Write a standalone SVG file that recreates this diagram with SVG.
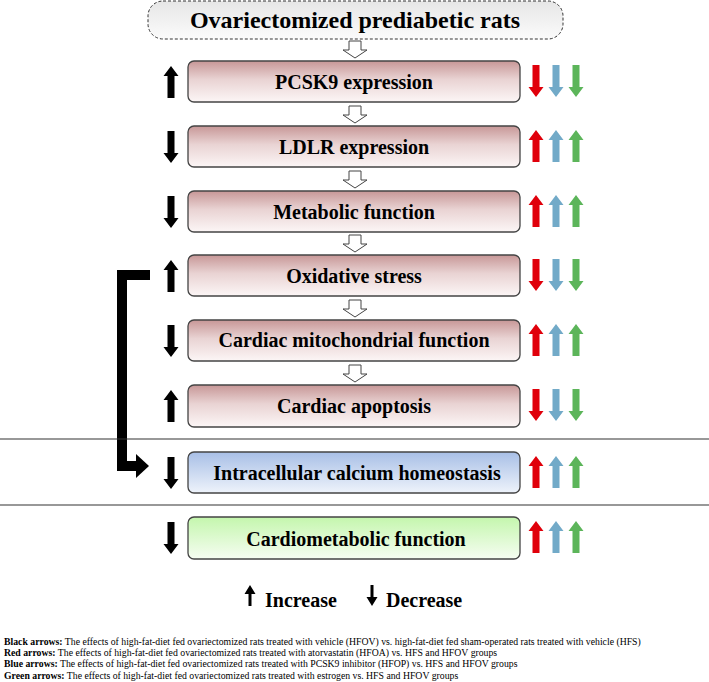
<svg xmlns="http://www.w3.org/2000/svg" width="709" height="682" viewBox="0 0 709 682" font-family="'Liberation Serif', 'Times New Roman', serif">
<style>
.t{font-family:'Liberation Serif',serif;font-size:20px;font-weight:bold;text-anchor:middle}
.box{stroke:#444;stroke-width:1.3}
.fn{font-family:'Liberation Serif',serif;font-size:9.75px}
.b{font-weight:bold}
.lg{font-family:'Liberation Serif',serif;font-size:20px;font-weight:bold}
.hol{fill:#fff;stroke:#444;stroke-width:1}
.k{fill:#000}.r{fill:#e0000b}.u{fill:#72aac8}.g{fill:#5cb55a}
</style>
<defs>
<linearGradient id="gp" x1="0" y1="0" x2="0" y2="1"><stop offset="0" stop-color="#c79797"/><stop offset="0.45" stop-color="#e9d3d3"/><stop offset="1" stop-color="#fcf6f6"/></linearGradient>
<linearGradient id="gb" x1="0" y1="0" x2="0" y2="1"><stop offset="0" stop-color="#a8bfe6"/><stop offset="1" stop-color="#eef3fb"/></linearGradient>
<linearGradient id="gg" x1="0" y1="0" x2="0" y2="1"><stop offset="0" stop-color="#c4f6ad"/><stop offset="1" stop-color="#f6fdf2"/></linearGradient>
<linearGradient id="gt" x1="0" y1="0" x2="0" y2="1"><stop offset="0" stop-color="#e6e6e6"/><stop offset="1" stop-color="#fbfbfb"/></linearGradient>
<path id="up" d="M-3.5,32 V10 H-7.5 L0,0 L7.5,10 H3.5 V32 Z"/>
<path id="dn" d="M-3.5,0 V22 H-7.5 L0,32 L7.5,22 H3.5 V0 Z"/>
<path id="ho" d="M-6,0 H6 V9 H12 L0,17 L-12,9 H-6 Z"/>
</defs>

<g id="title">
<rect x="148" y="1" width="415" height="38" rx="15" fill="url(#gt)" stroke="#333" stroke-width="1" stroke-dasharray="3,2"/>
<text x="355" y="28" style="font-family:'Liberation Serif',serif;font-size:24px;font-weight:bold;text-anchor:middle">Ovariectomized prediabetic rats</text>
</g>

<g id="connectors">
<use href="#ho" class="hol" x="355" y="41"/>
<use href="#ho" class="hol" x="355" y="106"/>
<use href="#ho" class="hol" x="355" y="171"/>
<use href="#ho" class="hol" x="355" y="235"/>
<use href="#ho" class="hol" x="355" y="300"/>
<use href="#ho" class="hol" x="355" y="365"/>
<path d="M150,275 H122 V466 H138" fill="none" stroke="#000" stroke-width="10"/>
<path d="M136,454 L149,466 L136,478 Z" fill="#000"/>
<line x1="0" y1="439" x2="709" y2="439" stroke="#333" stroke-width="1.2"/>
<line x1="0" y1="505" x2="709" y2="505" stroke="#333" stroke-width="1.2"/>
</g>

<g id="n1">
<rect class="box" x="188" y="61" width="332" height="41" rx="6" fill="url(#gp)"/>
<text class="t" x="354" y="89">PCSK9 expression</text>
<use href="#up" class="k" x="171" y="66"/>
<use href="#dn" class="r" x="536" y="65"/><use href="#dn" class="u" x="556" y="65"/><use href="#dn" class="g" x="576" y="65"/>
</g>
<g id="n2">
<rect class="box" x="188" y="126" width="332" height="41" rx="6" fill="url(#gp)"/>
<text class="t" x="354" y="154">LDLR expression</text>
<use href="#dn" class="k" x="171" y="131"/>
<use href="#up" class="r" x="536" y="130"/><use href="#up" class="u" x="556" y="130"/><use href="#up" class="g" x="576" y="130"/>
</g>
<g id="n3">
<rect class="box" x="188" y="191" width="332" height="41" rx="6" fill="url(#gp)"/>
<text class="t" x="354" y="219">Metabolic function</text>
<use href="#dn" class="k" x="171" y="196"/>
<use href="#up" class="r" x="536" y="195"/><use href="#up" class="u" x="556" y="195"/><use href="#up" class="g" x="576" y="195"/>
</g>
<g id="n4">
<rect class="box" x="188" y="255" width="332" height="41" rx="6" fill="url(#gp)"/>
<text class="t" x="354" y="283">Oxidative stress</text>
<use href="#up" class="k" x="171" y="260"/>
<use href="#dn" class="r" x="536" y="259"/><use href="#dn" class="u" x="556" y="259"/><use href="#dn" class="g" x="576" y="259"/>
</g>
<g id="n5">
<rect class="box" x="188" y="320" width="332" height="41" rx="6" fill="url(#gp)"/>
<text class="t" x="354" y="347">Cardiac mitochondrial function</text>
<use href="#dn" class="k" x="171" y="325"/>
<use href="#up" class="r" x="536" y="324"/><use href="#up" class="u" x="556" y="324"/><use href="#up" class="g" x="576" y="324"/>
</g>
<g id="n6">
<rect class="box" x="188" y="385" width="332" height="42" rx="6" fill="url(#gp)"/>
<text class="t" x="354" y="413">Cardiac apoptosis</text>
<use href="#up" class="k" x="171" y="390"/>
<use href="#dn" class="r" x="536" y="389"/><use href="#dn" class="u" x="556" y="389"/><use href="#dn" class="g" x="576" y="389"/>
</g>
<g id="n7">
<rect class="box" x="188" y="452" width="332" height="41" rx="6" fill="url(#gb)"/>
<text class="t" x="357" y="480">Intracellular calcium homeostasis</text>
<use href="#dn" class="k" x="171" y="457"/>
<use href="#up" class="r" x="536" y="456"/><use href="#up" class="u" x="556" y="456"/><use href="#up" class="g" x="576" y="456"/>
</g>
<g id="n8">
<rect class="box" x="188" y="517" width="332" height="42" rx="6" fill="url(#gg)"/>
<text class="t" x="356" y="546">Cardiometabolic function</text>
<use href="#dn" class="k" x="171" y="522"/>
<use href="#up" class="r" x="536" y="521"/><use href="#up" class="u" x="556" y="521"/><use href="#up" class="g" x="576" y="521"/>
</g>

<g id="legend">
<path d="M248.5,606 V594 H244.5 L250,585 L255.5,594 H251.5 V606 Z" fill="#000"/>
<text class="lg" x="265" y="607">Increase</text>
<path d="M370.5,585 V597 H366.5 L372,606 L377.5,597 H373.5 V585 Z" fill="#000"/>
<text class="lg" x="386" y="607">Decrease</text>
</g>

<g id="footnotes">
<text class="fn" x="4" y="645"><tspan class="b">Black arrows:</tspan> The effects of high-fat-diet fed ovariectomized rats treated with vehicle (HFOV) vs. high-fat-diet fed sham-operated rats treated with vehicle (HFS)</text>
<text class="fn" x="4" y="656"><tspan class="b">Red arrows:</tspan> The effects of high-fat-diet fed ovariectomized rats treated with atorvastatin (HFOA) vs. HFS and HFOV groups</text>
<text class="fn" x="4" y="667"><tspan class="b">Blue arrows:</tspan> The effects of high-fat-diet fed ovariectomized rats treated with PCSK9 inhibitor (HFOP) vs. HFS and HFOV groups</text>
<text class="fn" x="4" y="679"><tspan class="b">Green arrows:</tspan> The effects of high-fat-diet fed ovariectomized rats treated with estrogen vs. HFS and HFOV groups</text>
</g>
</svg>
